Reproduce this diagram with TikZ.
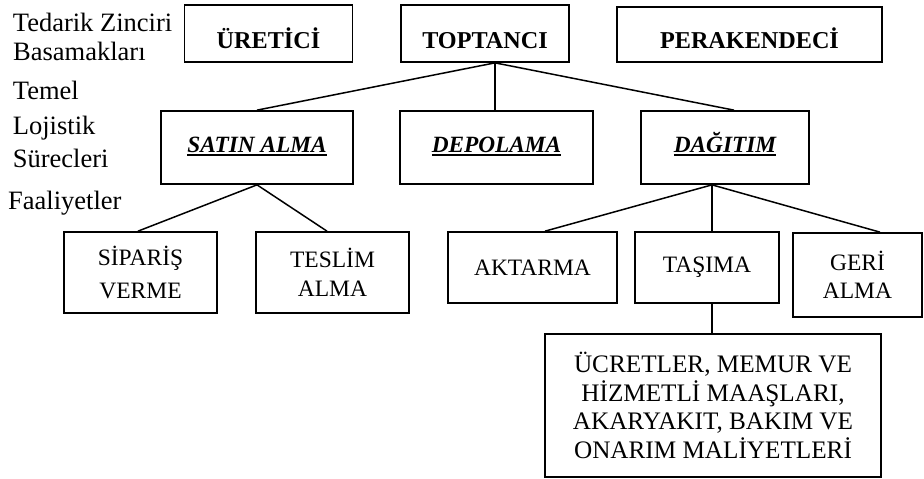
\documentclass[tikz,border=0pt]{standalone}
\usepackage{fontspec}
\setmainfont{Liberation Serif}
\newcommand\myul[1]{\setbox0\hbox{#1}\rlap{\rule[-3.6pt]{\wd0}{1.8pt}}\box0}
\begin{document}
\begin{tikzpicture}[x=1pt,y=-1pt,
 box/.style={draw, line width=1.7pt, inner sep=0pt, align=center},
 conn/.style={line width=1.5pt},
 lab/.style={anchor=base west, inner sep=0pt, font=\fontsize{26.5}{34}\selectfont},
 topfont/.style={font=\fontsize{24.2}{28}\selectfont\bfseries},
 midfont/.style={font=\fontsize{23.3}{28}\selectfont\bfseries\itshape},
 lowfont/.style={font=\fontsize{23.5}{28.5}\selectfont},
 bigfont/.style={font=\fontsize{25.2}{28.8}\selectfont}]
\useasboundingbox (0,0) rectangle (924,479);

% left labels
\node[lab] (l1) at (12.7,31) {Tedarik Zinciri};
\node[lab] (l2) at (13,60.5) {Basamakları};
\node[lab] (l3) at (12.7,99.5) {Temel};
\node[lab] (l4) at (12.7,134.5) {Lojistik};
\node[lab] (l5) at (12.7,167) {Sürecleri};
\node[lab] (l6) at (8,209) {Faaliyetler};

% top row
\node[box,topfont,minimum width=168,minimum height=57,text height=29pt,text depth=0pt] (ure) at (268.5,33.5) {ÜRETİCİ};
\node[box,topfont,minimum width=168,minimum height=57,text height=29pt,text depth=0pt] (top) at (485,33.5) {TOPTANCI};
\node[box,topfont,minimum width=265,minimum height=55,text height=27pt,text depth=0pt] (per) at (749.5,34.5) {PERAKENDECİ};

% middle row
\node[box,midfont,minimum width=192,minimum height=73,text height=12pt,text depth=3pt] (sat) at (257,147.5) {\myul{SATIN ALMA}};
\node[box,midfont,minimum width=193,minimum height=73,text height=12pt,text depth=3pt] (dep) at (496.5,147.5) {\myul{DEPOLAMA}};
\node[box,midfont,minimum width=168,minimum height=73,text height=12pt,text depth=3pt] (dag) at (725,147.5) {\myul{DAĞITIM}};

% lower row
\node[box,lowfont,minimum width=153,minimum height=81] (sip) at (140.5,272.5) {SİPARİŞ\\[5pt]VERME};
\node[box,lowfont,minimum width=153,minimum height=81] (tes) at (332.5,272.5) {TESLİM\\ALMA};
\node[box,lowfont,minimum width=169,minimum height=71] (akt) at (532.5,267.5) {AKTARMA};
\node[box,lowfont,minimum width=144,minimum height=71] (tas) at (707,267.5) {TAŞIMA};
\node[box,lowfont,minimum width=129,minimum height=84] (ger) at (857.5,275) {GERİ\\ALMA};
\node[box,bigfont,minimum width=336,minimum height=143] (ucr) at (713,405.5) {ÜCRETLER, MEMUR VE\\HİZMETLİ MAAŞLARI,\\AKARYAKIT, BAKIM VE\\ONARIM MALİYETLERİ};

% connectors
\draw[conn] ([xshift=10]top.south) -- (sat.north);
\draw[conn] ([xshift=10]top.south) -- ([xshift=-1.5]dep.north);
\draw[conn] ([xshift=10]top.south) -- ([xshift=9]dag.north);
\draw[conn] (sat.south) -- ([xshift=-2.5]sip.north);
\draw[conn] (sat.south) -- ([xshift=-5.5]tes.north);
\draw[conn] ([xshift=-13]dag.south) -- ([xshift=12.5]akt.north);
\draw[conn] ([xshift=-13]dag.south) -- ([xshift=5]tas.north);
\draw[conn] ([xshift=-13]dag.south) -- ([xshift=22.5]ger.north);
\draw[conn] ([xshift=5]tas.south) -- ([xshift=-1]ucr.north);
\end{tikzpicture}
\end{document}
